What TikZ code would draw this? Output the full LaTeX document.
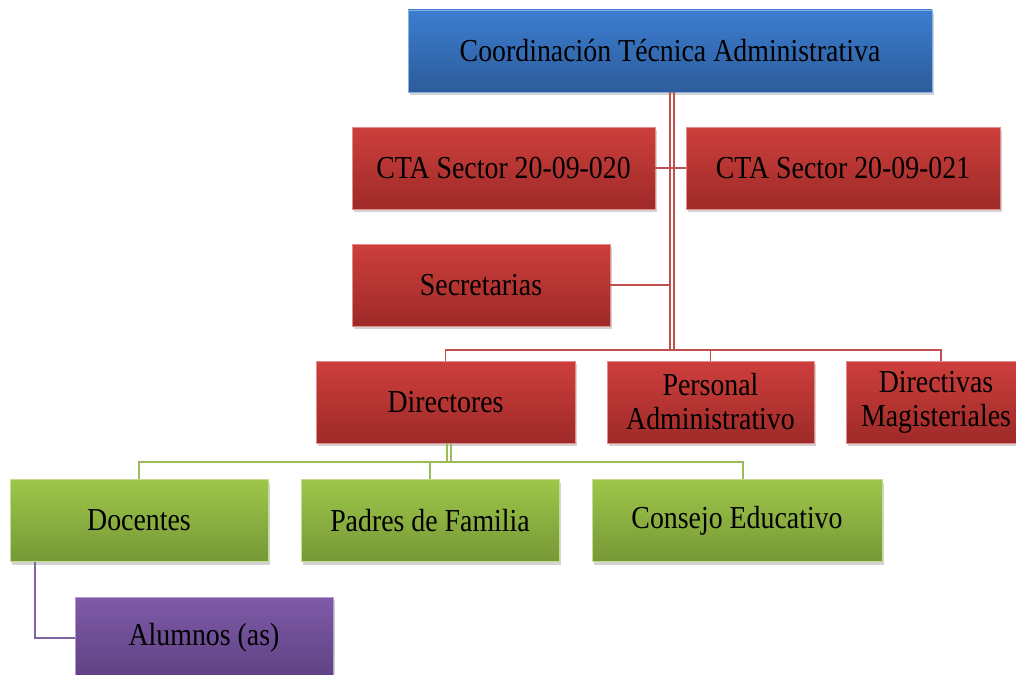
\documentclass[tikz,border=0pt]{standalone}
\usepackage{fontspec}
\setmainfont{Liberation Serif}[FakeStretch = 0.87]
\usetikzlibrary{shadows}
\definecolor{bluetop}{RGB}{60,125,208}
\definecolor{bluebot}{RGB}{44,92,154}
\definecolor{redtop}{RGB}{205,63,60}
\definecolor{redbot}{RGB}{158,42,40}
\definecolor{greentop}{RGB}{158,198,74}
\definecolor{greenbot}{RGB}{118,152,54}
\definecolor{violettop}{RGB}{126,90,168}
\definecolor{violetbot}{RGB}{94,66,130}
\definecolor{redlink}{RGB}{192,80,77}
\definecolor{greenlink}{RGB}{155,187,89}
\definecolor{violetlink}{RGB}{128,100,162}
\begin{document}
\begin{tikzpicture}[x = 0.5pt, y = -0.5pt,
        unit/.style = {rectangle, inner sep = 0pt, minimum height = 41pt, align = center,
            font = \fontsize{16}{17}\selectfont,
            drop shadow = {shadow xshift = 1pt, shadow yshift = -1.5pt, opacity = 0.35}},
        bluebox/.style = {unit, top color = bluetop, bottom color = bluebot, draw = bluetop!60!white, very thin},
        redbox/.style = {unit, top color = redtop, bottom color = redbot, draw = redtop!60!white, very thin},
        greenbox/.style = {unit, top color = greentop, bottom color = greenbot, draw = greentop!60!white, very thin},
        violetbox/.style = {unit, top color = violettop, bottom color = violetbot, draw = violettop!60!white, very thin},
        redline/.style = {draw = redlink, line width = 0.9pt},
        greenline/.style = {draw = greenlink, line width = 0.9pt},
        violetline/.style = {draw = violetlink, line width = 0.9pt}]
    \useasboundingbox (0,0) rectangle (1016,674);
    % junction points of the connectors
    \coordinate (trunkl) at (670,350);
    \coordinate (trunkr) at (674,350);
    \coordinate (forkl) at (447,462);
    \coordinate (forkr) at (451,462);
    % boxes
    \node[bluebox, minimum width = 262pt] (coord) at (670,51) {Coordinación Técnica Administrativa};
    \node[redbox, minimum width = 151.5pt] (sector1) at (503.5,168) {CTA Sector 20-09-020};
    \node[redbox, minimum width = 157pt] (sector2) at (843,168) {CTA Sector 20-09-021};
    \node[redbox, minimum width = 129pt] (secr) at (481,285) {Secretarias};
    \node[redbox, minimum width = 129.5pt] (dir) at (445.5,402) {Directores};
    \node[redbox, minimum width = 103.5pt] (pers) at (710.5,402) {Personal\\Administrativo};
    \node[redbox, minimum width = 90pt] (dmag) at (936,402) {Directivas\\Magisteriales};
    \node[greenbox, minimum width = 129pt] (doc) at (139,520.5) {Docentes};
    \node[greenbox, minimum width = 129pt] (padres) at (430,520.5) {Padres de Familia};
    \node[greenbox, minimum width = 145pt] (consejo) at (737,520.5) {Consejo Educativo};
    \node[violetbox, minimum width = 129pt] (alum) at (204,638) {Alumnos (as)};
    % connectors
    \draw[redline] (trunkl |- coord.south) -- (trunkl);
    \draw[redline] (trunkr |- coord.south) -- (trunkr);
    \draw[redline] (sector1.east) -- (sector2.west);
    \draw[redline] (secr.east) -- (secr.east -| trunkl);
    \draw[redline] (dir.north) |- (trunkl) -| ([xshift = 2.5pt]dmag.north);
    \draw[redline] (pers.north) -- (pers.north |- trunkl);
    \draw[greenline] (forkl |- dir.south) -- (forkl);
    \draw[greenline] (forkr |- dir.south) -- (forkr);
    \draw[greenline] (doc.north) |- (forkl) -| ([xshift = 3pt]consejo.north);
    \draw[greenline] (padres.north) -- (padres.north |- forkl);
    \draw[violetline] ([xshift = 12.5pt]doc.south west) |- (alum.west);
\end{tikzpicture}
\end{document}
